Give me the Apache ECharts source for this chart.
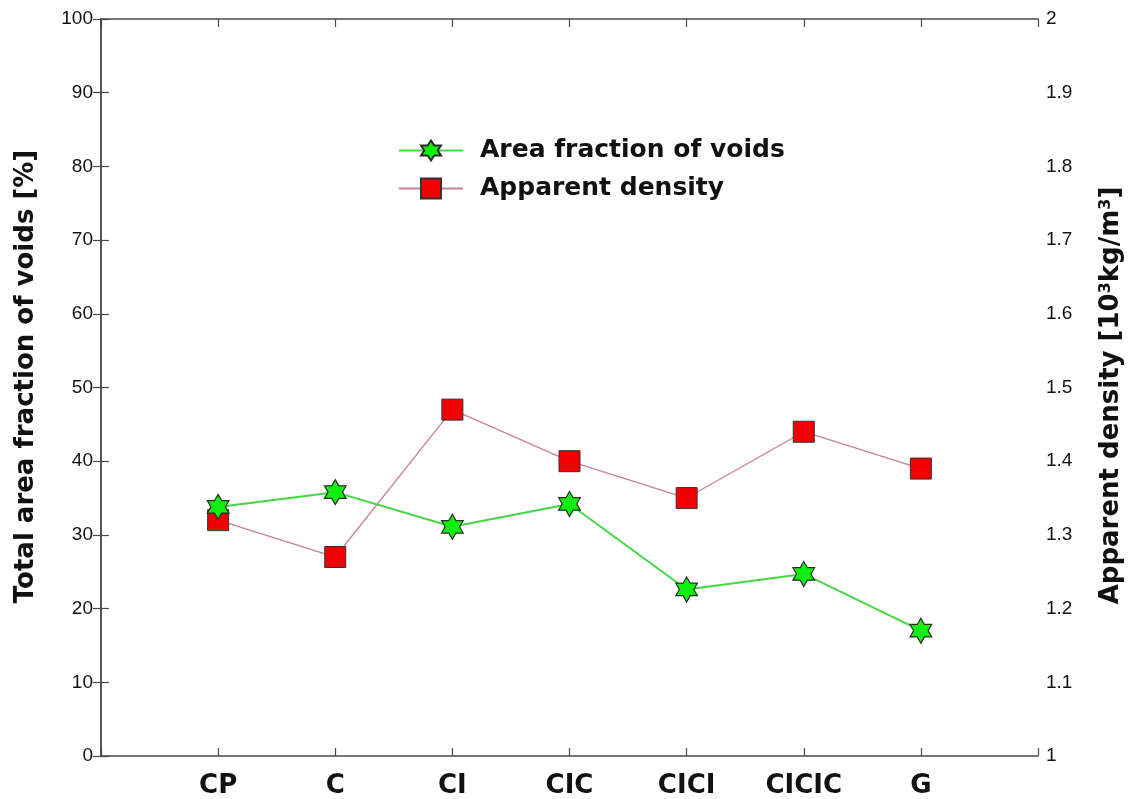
<!DOCTYPE html>
<html>
<head>
<meta charset="utf-8">
<script src="https://cdn.jsdelivr.net/npm/echarts@6/dist/echarts.min.js"></script>
<style>
  html, body { margin: 0; padding: 0; background: #fff; }
  #chart { width: 1134px; height: 799px; }
</style>
</head>
<body>
<div id="chart"></div>
<script>
const categories = ['CP', 'C', 'CI', 'CIC', 'CICI', 'CICIC', 'G'];
const voidFraction = [33.8, 35.8, 31.1, 34.2, 22.6, 24.7, 17.0];
const apparentDensity = [1.32, 1.27, 1.47, 1.40, 1.35, 1.44, 1.39];

const leftTicks = { min: 0, max: 100, interval: 10 };
const rightTicks = { min: 1, max: 2, interval: 0.1 };

const hexagram = 'path://M50 0 L64.4 25 L93.3 25 L78.9 50 L93.3 75 L64.4 75 L50 100 L35.6 75 L6.7 75 L21.1 50 L6.7 25 L35.6 25 Z';

const axisColor = '#4a4a4a';
const textColor = '#111';
const font = 'Liberation Sans, Arial, sans-serif';
const boldFont = 'DejaVu Sans, sans-serif';

const chart = echarts.init(document.getElementById('chart'));

const xCommon = {
  type: 'value',
  min: 0,
  max: categories.length + 1,
  interval: 1,
  axisLine: { show: true, onZero: false, lineStyle: { color: axisColor, width: 1.5 } },
  axisTick: { show: true, inside: true, length: 8, lineStyle: { color: axisColor, width: 1.2 } },
  splitLine: { show: false }
};

const yCommon = {
  type: 'value',
  axisLine: { show: true, lineStyle: { color: axisColor, width: 1.5 } },
  axisTick: { show: true, inside: true, length: 8, lineStyle: { color: axisColor, width: 1.2 } },
  splitLine: { show: false },
  nameLocation: 'middle',
  nameRotate: 90
};

const option = {
  animation: false,
  backgroundColor: '#fff',
  grid: { left: 101, right: 96, top: 19, bottom: 42, containLabel: false },
  legend: {
    orient: 'vertical',
    left: 393,
    top: 133,
    itemWidth: 64,
    itemHeight: 25,
    itemGap: 13,
    textStyle: { fontFamily: boldFont, fontWeight: 'bold', fontSize: 25, color: textColor, padding: [0, 0, 0, 12] },
    data: ['Area fraction of voids', 'Apparent density']
  },
  xAxis: [
    {
      ...xCommon,
      position: 'bottom',
      axisLabel: {
        margin: 17,
        fontFamily: boldFont,
        fontWeight: 'bold',
        fontSize: 26,
        color: textColor,
        formatter: v => categories[v - 1] || ''
      }
    },
    {
      ...xCommon,
      position: 'top',
      axisLabel: { show: false }
    }
  ],
  yAxis: [
    {
      ...yCommon,
      position: 'left',
      min: leftTicks.min,
      max: leftTicks.max,
      interval: leftTicks.interval,
      name: 'Total area fraction of voids [%]',
      nameGap: 62,
      nameTextStyle: { fontFamily: boldFont, fontWeight: 'bold', fontSize: 26, color: textColor, padding: [0, 0, 0, 22] },
      axisLabel: { margin: 8, fontFamily: font, fontSize: 19, color: textColor }
    },
    {
      ...yCommon,
      position: 'right',
      min: rightTicks.min,
      max: rightTicks.max,
      interval: rightTicks.interval,
      name: 'Apparent density [10{sup|3}kg/m{sup|3}]',
      nameGap: 60,
      nameTextStyle: {
        fontFamily: boldFont, fontWeight: 'bold', fontSize: 26, color: textColor, padding: [0, 16, 0, 0],
        rich: {
          sup: { fontFamily: boldFont, fontWeight: 'bold', fontSize: 16, color: textColor, verticalAlign: 'top', padding: [0, 0, 10, 0] }
        }
      },
      axisLabel: {
        margin: 8, fontFamily: font, fontSize: 19, color: textColor,
        formatter: v => String(+v.toFixed(1))
      }
    }
  ],
  series: [
    {
      name: 'Area fraction of voids',
      type: 'line',
      xAxisIndex: 0,
      yAxisIndex: 0,
      data: voidFraction.map((v, i) => [i + 1, v]),
      symbol: hexagram,
      symbolSize: 25,
      symbolKeepAspect: true,
      lineStyle: { color: '#44d844', width: 2 },
      itemStyle: { color: '#10f010', borderColor: '#2a2a2a', borderWidth: 1.2 },
      z: 3
    },
    {
      name: 'Apparent density',
      type: 'line',
      xAxisIndex: 0,
      yAxisIndex: 1,
      data: apparentDensity.map((v, i) => [i + 1, v]),
      symbol: 'rect',
      symbolSize: 21,
      lineStyle: { color: '#c9809a', width: 1.3 },
      itemStyle: { color: '#f00000', borderColor: '#333', borderWidth: 1 },
      z: 2
    }
  ]
};

chart.setOption(option);
window.addEventListener('resize', () => chart.resize());
</script>
</body>
</html>
